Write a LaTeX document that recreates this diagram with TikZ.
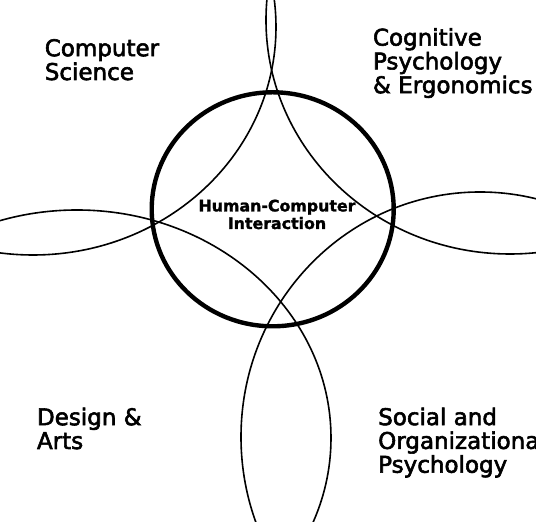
\documentclass[tikz,border=0pt]{standalone}
\usepackage{fontspec}
\setmainfont{DejaVu Sans}
\newfontfamily\fieldfont[FakeBold=2.5]{DejaVu Sans}
\newfontfamily\corefont[FakeBold=1.5]{DejaVu Sans Bold}
\usepackage{tikz}

\begin{document}
\begin{tikzpicture}[x=0.5pt,y=-0.5pt,
    petal/.style={line width=0.8pt},
    hci/.style={line width=2.2pt},
    field/.style={font=\fieldfont\fontsize{11.5}{11.9}\selectfont, align=left, anchor=base west, inner sep=0pt},
    core/.style={font=\corefont\fontsize{7.9}{8.8}\selectfont, align=center, anchor=base, inner sep=0pt}]
    \useasboundingbox (0,0) rectangle (536,522);
    \begin{scope}
        \clip (0,0) rectangle (536,522);
        % Petals:
        % Four big ellipses, one per corner, only their inner arcs show:
        \foreach \cx/\cy/\rx/\ry in {510/20/244/234, 33/27/243/228, 77/438/254/228, 480/437/239/245}{%
            \draw [petal] (\cx,\cy) ellipse [x radius=\rx, y radius=\ry];
        }
        % The central field:
        \draw [hci] (272.7,209.3) ellipse [x radius=121, y radius=117];
        % (base of a node = baseline of its last line)
        \node [core] (hci) at (277,229) {Human-Computer\\Interaction};

        % Labels of the four fields:
        \node [field] (cs)     at (44.4,80)    {Computer\\Science};
        \node [field] (cogpsy) at (372.6,93.2) {Cognitive\\Psychology\\\& Ergonomics};
        \node [field] (design) at (36.6,449)   {Design \&\\Arts};
        \node [field] (socpsy) at (377.8,472.7) {Social and\\Organizational\\Psychology};
    \end{scope}
\end{tikzpicture}
\end{document}
